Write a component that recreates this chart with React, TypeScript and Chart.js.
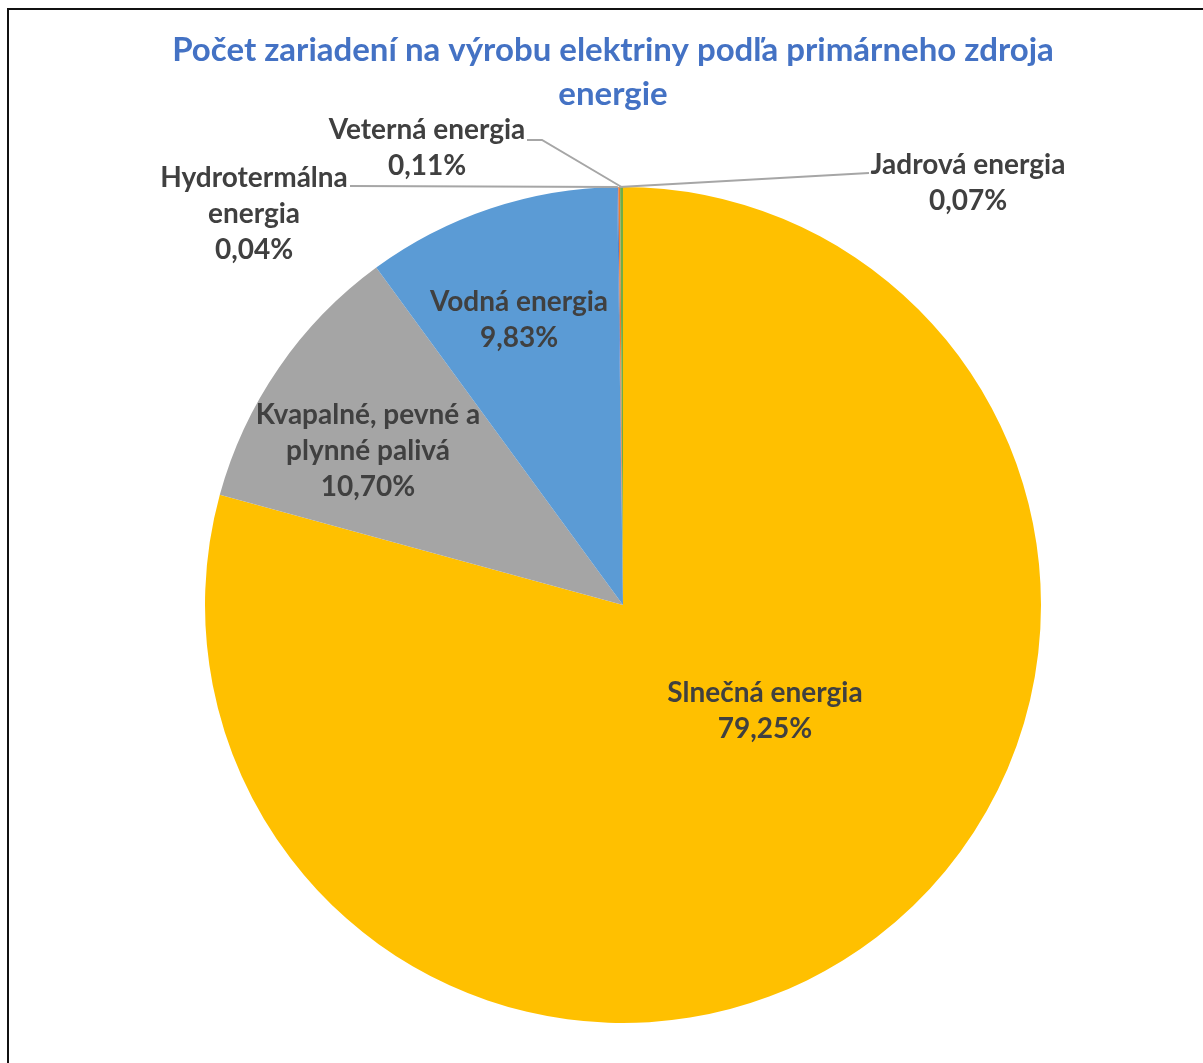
import { useEffect, useRef } from "react";
import { Chart, registerables } from "chart.js";

Chart.register(...registerables);

const titleLines = ["Počet zariadení na výrobu elektriny podľa primárneho zdroja", "energie"];
const categories = [
  "Slnečná energia",
  "Kvapalné, pevné a plynné palivá",
  "Vodná energia",
  "Hydrotermálna energia",
  "Jadrová energia",
  "Veterná energia",
];
const shares = [79.25, 10.7, 9.83, 0.04, 0.07, 0.11];
const colors = ["#FFC000", "#A5A5A5", "#5B9BD5", "#4472C4", "#ED7D31", "#70AD47"];
const labelLines = [
  ["Slnečná energia"],
  ["Kvapalné, pevné a", "plynné palivá"],
  ["Vodná energia"],
  ["Hydrotermálna", "energia"],
  ["Jadrová energia"],
  ["Veterná energia"],
];

// label placement relative to the pie centre (px): first line centre, optional leader points
const labelLayout: { x: number; y: number; leader?: number[][] }[] = [
  { x: 142, y: 88 },
  { x: -255, y: -190 },
  { x: -104, y: -303 },
  { x: -369, y: -427, leader: [[-273, -419]] },
  { x: 345, y: -440, leader: [[246, -432]] },
  { x: -196, y: -475, leader: [[-96, -465], [-81, -465]] },
];

const FONT = "Lato, 'Open Sans', sans-serif";
const LINE_H = 36;

const fmt = (v: number) => v.toFixed(2).replace(".", ",") + "%";

const labelPlugin = {
  id: "excelLabels",
  afterDraw(chart: any) {
    const ctx = chart.ctx as CanvasRenderingContext2D;
    ctx.save();
    // title
    ctx.fillStyle = "#4472C4";
    ctx.font = `bold 33px ${FONT}`;
    ctx.textAlign = "center";
    ctx.textBaseline = "middle";
    titleLines.forEach((t, i) => ctx.fillText(t, 613, 50 + i * 44));

    const meta = chart.getDatasetMeta(0);
    meta.data.forEach((arc: any, i: number) => {
      const { x: cx, y: cy, startAngle, endAngle, outerRadius } = arc.getProps(
        ["x", "y", "startAngle", "endAngle", "outerRadius"],
        true
      );
      const lay = labelLayout[i];
      const lines = [...labelLines[i], fmt(shares[i])];
      if (lay.leader) {
        const mid = (startAngle + endAngle) / 2;
        const ex = cx + Math.cos(mid) * outerRadius;
        const ey = cy + Math.sin(mid) * outerRadius;
        ctx.strokeStyle = "#A6A6A6";
        ctx.lineWidth = 2;
        ctx.beginPath();
        lay.leader.forEach((p, k) => {
          if (k === 0) ctx.moveTo(cx + p[0], cy + p[1]);
          else ctx.lineTo(cx + p[0], cy + p[1]);
        });
        ctx.lineTo(ex, ey);
        ctx.stroke();
      }
      ctx.fillStyle = "#404040";
      ctx.font = `bold 28px ${FONT}`;
      lines.forEach((t, k) => ctx.fillText(t, cx + lay.x, cy + lay.y + k * LINE_H));
    });
    ctx.restore();
  },
};

export default function App() {
  const ref = useRef<HTMLCanvasElement | null>(null);
  useEffect(() => {
    if (!ref.current) return;
    const chart = new Chart(ref.current, {
      type: "pie",
      data: {
        labels: categories,
        datasets: [
          {
            data: shares,
            backgroundColor: colors,
            borderWidth: 0,
          },
        ],
      },
      options: {
        responsive: false,
        animation: false,
        events: [],
        layout: { padding: { left: 205, right: 162, top: 187, bottom: 40 } },
        plugins: {
          legend: { display: false },
          title: { display: false },
          tooltip: { enabled: false },
        },
      },
      plugins: [labelPlugin],
    });
    return () => chart.destroy();
  }, []);

  return (
    <>
      <div
        style={{
          position: "fixed",
          left: 7,
          top: 8,
          right: 0,
          bottom: 0,
          borderTop: "2px solid #111",
          borderLeft: "2px solid #111",
          background: "#fff",
        }}
      />
      <canvas
        ref={ref}
        width={1203}
        height={1063}
        style={{ position: "fixed", left: 0, top: 0, width: 1203, height: 1063 }}
      />
    </>
  );
}
